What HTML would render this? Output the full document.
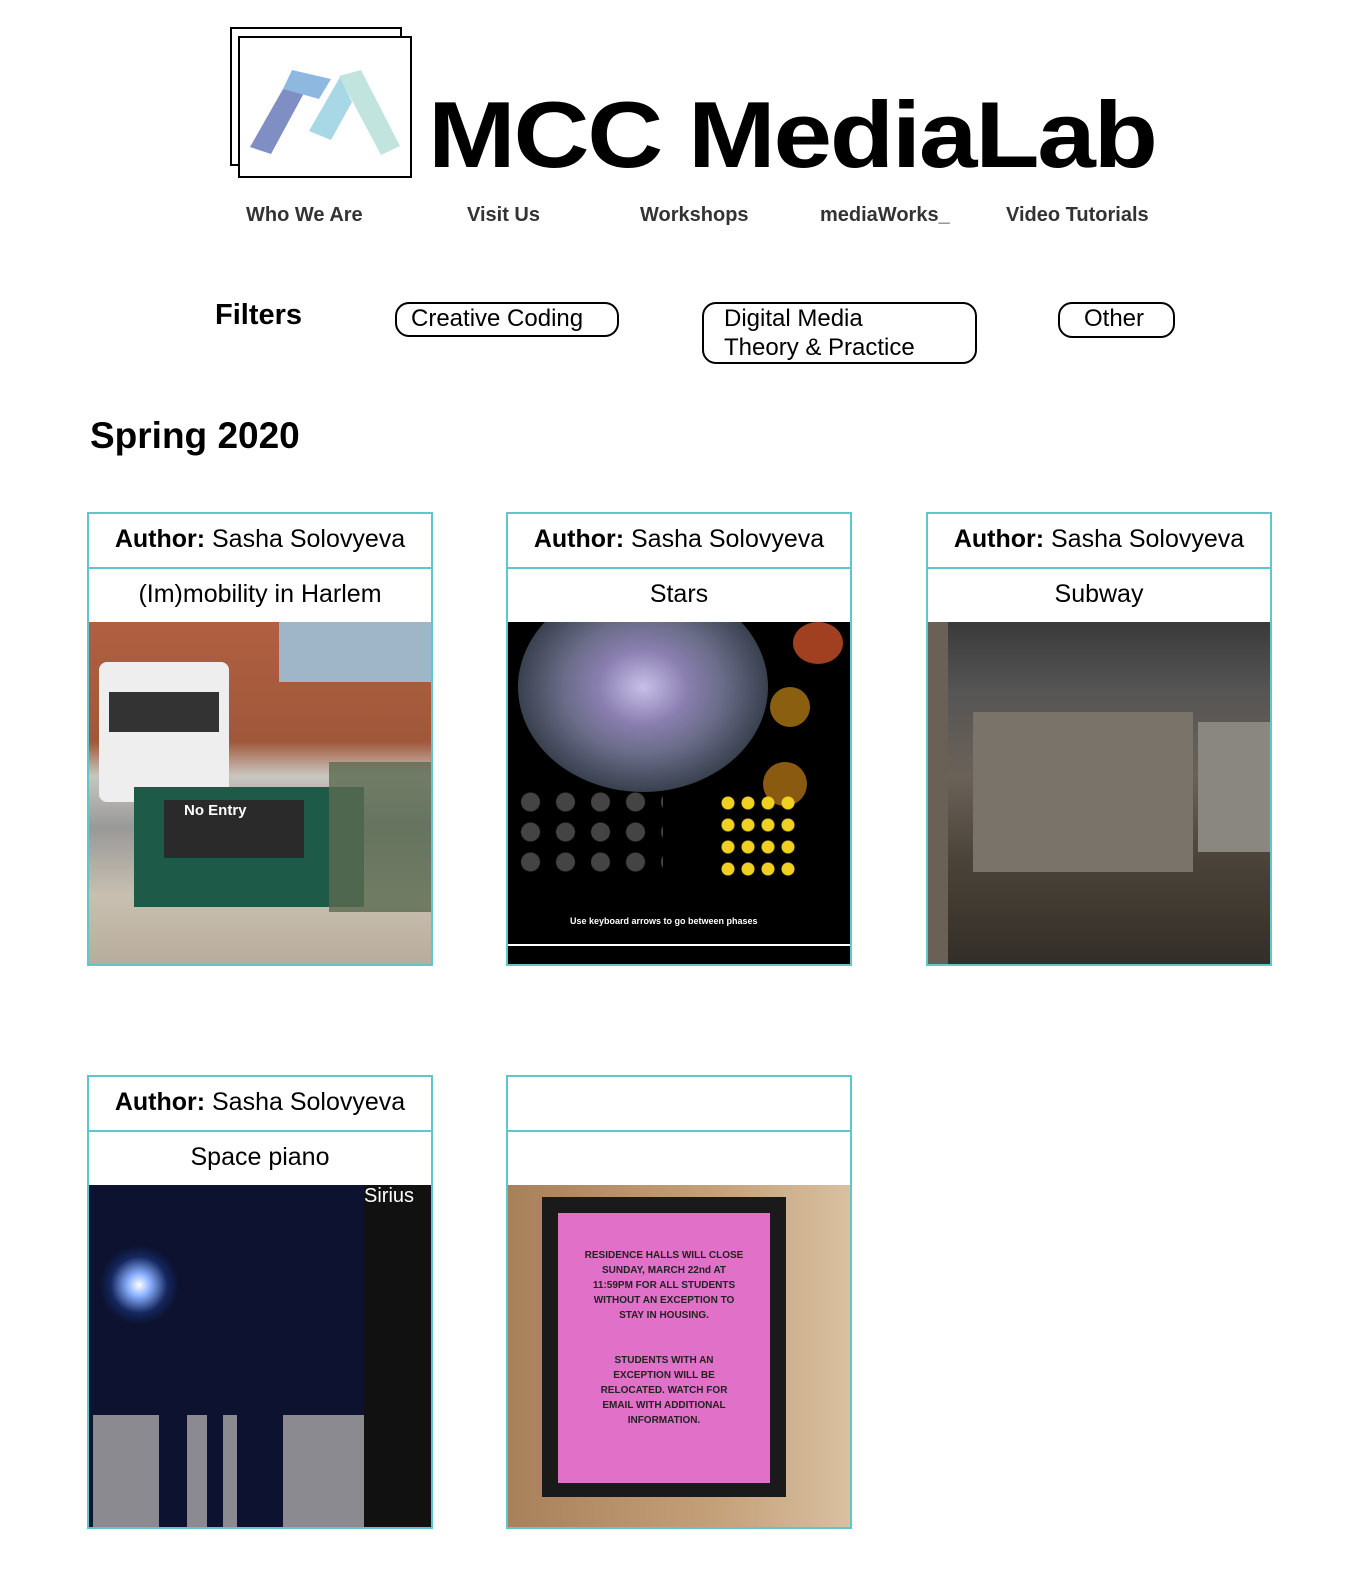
<!DOCTYPE html>
<html><head><meta charset="utf-8"><style>
body{margin:0;width:1366px;height:1572px;background:#fff;font-family:"Liberation Sans",sans-serif;position:relative;overflow:hidden;color:#000}
.abs{position:absolute}
.nav{position:absolute;top:204px;font-size:20px;font-weight:bold;color:#333}
.pill{position:absolute;border:2px solid #000;border-radius:14px;font-size:24px;box-sizing:border-box;padding-left:14px;line-height:29px}
.card{position:absolute;width:346px;height:454px;box-sizing:border-box;border:2px solid #5fc6cb}
.row{height:55px;border-bottom:2px solid #5fc6cb;box-sizing:border-box;text-align:center;font-size:25px;line-height:50px;white-space:nowrap}
.img{position:absolute;left:0;top:108px;width:342px;height:342px;overflow:hidden}
</style></head><body>
<div class="abs" style="left:230px;top:27px;width:930px;height:150px">
 <div class="abs" style="left:0;top:0;width:168px;height:135px;border:2px solid #000;background:#fff"></div>
 <div class="abs" style="left:8px;top:9px;width:170px;height:138px;border:2px solid #000;background:#fff"></div>
 <svg class="abs" style="left:0;top:0" width="180" height="150">
  <polygon points="53,62 74,66 41,127 20,120" fill="#7f8fc4"/>
  <polygon points="62,43 101,52 89,72 53,62" fill="#8fb8e0"/>
  <polygon points="110,50 122,75 101,113 79,104" fill="#a8d8e6"/>
  <polygon points="109,49 131,43 170,119 151,128" fill="#c2e4de"/>
 </svg>
 <div class="abs" style="left:198px;top:58px;font-size:94px;font-weight:900;letter-spacing:-2px;line-height:100px;transform:scaleX(1.12);transform-origin:left">MCC MediaLab</div>
</div>
<div class="nav" style="left:246px">Who We Are</div>
<div class="nav" style="left:467px">Visit Us</div>
<div class="nav" style="left:640px">Workshops</div>
<div class="nav" style="left:820px">mediaWorks_</div>
<div class="nav" style="left:1006px">Video Tutorials</div>
<div class="abs" style="left:215px;top:299px;font-size:29px;font-weight:bold">Filters</div>
<div class="pill" style="left:395px;top:302px;width:224px;height:35px">Creative Coding</div>
<div class="pill" style="left:702px;top:302px;width:275px;height:62px;padding-left:20px">Digital Media<br>Theory &amp; Practice</div>
<div class="pill" style="left:1058px;top:302px;width:117px;height:36px;padding-left:24px">Other</div>
<div class="abs" style="left:90px;top:415px;font-size:37px;font-weight:bold">Spring 2020</div>

<div class="card" style="left:87px;top:512px">
 <div class="row"><b>Author:</b> Sasha Solovyeva</div><div class="row">(Im)mobility in Harlem</div>
 <div class="img" style="background:linear-gradient(#b06040 0,#a0583a 35%,#c9c6c0 45%,#999 60%,#c8bfb0 80%,#b8ad9c 100%)">
  <div class="abs" style="left:190px;top:0;width:152px;height:60px;background:#9fb5c8"></div>
  <div class="abs" style="left:10px;top:40px;width:130px;height:140px;background:#eee;border-radius:8px"></div>
  <div class="abs" style="left:20px;top:70px;width:110px;height:40px;background:#333"></div>
  <div class="abs" style="left:45px;top:165px;width:230px;height:120px;background:#1e5a48"></div>
  <div class="abs" style="left:75px;top:178px;width:140px;height:58px;background:#2a2a2a;color:#fff;font-size:15px;font-weight:bold;padding:2px 20px;box-sizing:border-box">No Entry</div>
  <div class="abs" style="left:240px;top:140px;width:102px;height:150px;background:#5a6a50;opacity:.8"></div>
 </div>
</div>
<div class="card" style="left:506px;top:512px">
 <div class="row"><b>Author:</b> Sasha Solovyeva</div><div class="row">Stars</div>
 <div class="img" style="background:#000">
  <div class="abs" style="left:10px;top:-40px;width:250px;height:210px;border-radius:50%;background:radial-gradient(#c8c0e8 0,#8a7fb0 25%,#6a6c88 45%,#3a4250 70%,#000 100%)"></div>
  <div class="abs" style="left:285px;top:0;width:50px;height:42px;border-radius:50%;background:#a04020"></div>
  <div class="abs" style="left:262px;top:65px;width:40px;height:40px;border-radius:50%;background:#8a6010"></div>
  <div class="abs" style="left:255px;top:140px;width:44px;height:44px;border-radius:50%;background:#8a5a10"></div>
  <div class="abs" style="left:210px;top:170px;width:80px;height:90px;background:radial-gradient(circle,#f0d020 0 6px,transparent 7px) 0 0/20px 22px"></div>
  <div class="abs" style="left:5px;top:165px;width:150px;height:90px;background:radial-gradient(circle,#444 0 9px,transparent 10px) 0 0/35px 30px"></div>
  <div class="abs" style="left:62px;top:294px;color:#fff;font-size:9px;font-weight:bold">Use keyboard arrows to go between phases</div>
  <div class="abs" style="left:0;top:322px;width:342px;height:2px;background:#fff"></div>
 </div>
</div>
<div class="card" style="left:926px;top:512px">
 <div class="row"><b>Author:</b> Sasha Solovyeva</div><div class="row">Subway</div>
 <div class="img" style="background:linear-gradient(#3a3a3a 0,#555 20%,#6a6258 45%,#4a4338 70%,#332e28 100%)">
  <div class="abs" style="left:45px;top:90px;width:220px;height:160px;background:#7a736a"></div>
  <div class="abs" style="left:270px;top:100px;width:72px;height:130px;background:#8a8680"></div>
  <div class="abs" style="left:0;top:0;width:20px;height:342px;background:#6a6055"></div>
 </div>
</div>
<div class="card" style="left:87px;top:1075px">
 <div class="row"><b>Author:</b> Sasha Solovyeva</div><div class="row">Space piano</div>
 <div class="img" style="background:#0c1230">
  <div class="abs" style="left:10px;top:60px;width:80px;height:80px;border-radius:50%;background:radial-gradient(#fff 0,#8ab0ff 20%,rgba(30,60,140,.5) 50%,transparent 70%)"></div>
  <div class="abs" style="left:275px;top:0;width:67px;height:342px;background:#111;color:#fff;font-size:20px">Sirius</div>
  <div class="abs" style="left:4px;top:230px;width:271px;height:112px;background:#8a8a90"></div>
  <div class="abs" style="left:70px;top:230px;width:28px;height:112px;background:#0c1230"></div>
  <div class="abs" style="left:118px;top:230px;width:16px;height:112px;background:#0c1230"></div>
  <div class="abs" style="left:148px;top:230px;width:46px;height:112px;background:#0c1230"></div>
 </div>
</div>
<div class="card" style="left:506px;top:1075px">
 <div class="row"></div><div class="row"></div>
 <div class="img" style="background:linear-gradient(90deg,#a8805a,#c4a078 60%,#d8c0a0)">
  <div class="abs" style="left:34px;top:12px;width:244px;height:300px;background:#1a1a1a"></div>
  <div class="abs" style="left:50px;top:28px;width:212px;height:270px;background:#e070c8;font-size:10px;font-weight:bold;text-align:center;color:#222;padding-top:35px;box-sizing:border-box;line-height:15px">RESIDENCE HALLS WILL CLOSE<br>SUNDAY, MARCH 22nd AT<br>11:59PM FOR ALL STUDENTS<br>WITHOUT AN EXCEPTION TO<br>STAY IN HOUSING.<br><br><br>STUDENTS WITH AN<br>EXCEPTION WILL BE<br>RELOCATED. WATCH FOR<br>EMAIL WITH ADDITIONAL<br>INFORMATION.</div>
 </div>
</div>
</body></html>
